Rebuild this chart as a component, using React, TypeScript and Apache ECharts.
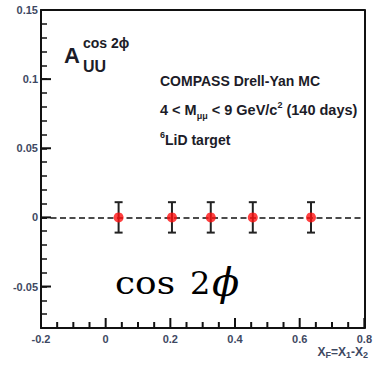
import React, { useEffect, useRef } from 'react';
import * as echarts from 'echarts';

// Data
const xF = [0.04, 0.205, 0.325, 0.455, 0.635];
const aUU = [0, 0, 0, 0, 0];
const aErr = [0.011, 0.011, 0.011, 0.011, 0.011];
const yMajorTicks = [-0.05, 0, 0.05, 0.1, 0.15];
const xMajorTicks = [-0.2, 0, 0.2, 0.4, 0.6, 0.8];
const xMinorTicks = [-0.15, -0.1, -0.05, 0.05, 0.1, 0.15, 0.25, 0.3, 0.35, 0.45, 0.5, 0.55, 0.65, 0.7, 0.75];
const xRange = [-0.2, 0.8];
const yRange = [-0.08, 0.15];

const FRAME = '#111111';
const TICK_LABEL = '#3e4862';
const ANNOT = '#1c1c28';
const SANS = '"Liberation Sans", Arial, sans-serif';
const SERIF = '"DejaVu Serif", serif';

const isMajorY = (v: number) => yMajorTicks.some((t) => Math.abs(t - v) < 1e-6);

const textGraphics: any[] = [
  { type: 'text', z: 50, x: 64, y: 55, style: { text: 'A', font: `bold 22px ${SANS}`, fill: ANNOT, verticalAlign: 'middle' } },
  { type: 'text', z: 50, x: 83, y: 43, style: { text: 'cos 2ϕ', font: `bold 14px ${SANS}`, fill: ANNOT, verticalAlign: 'middle' } },
  { type: 'text', z: 50, x: 83, y: 66, style: { text: 'UU', font: `bold 16px ${SANS}`, fill: ANNOT, verticalAlign: 'middle' } },
  { type: 'text', z: 50, x: 160, y: 81, style: { text: 'COMPASS Drell-Yan MC', font: `bold 14px ${SANS}`, fill: ANNOT, verticalAlign: 'middle' } },
  {
    type: 'text',
    z: 50,
    x: 160,
    y: 110,
    style: {
      text: '{m|4 < M}{s|μμ}{m| < 9 GeV/c}{p|2}{m| (140 days)}',
      fill: ANNOT,
      verticalAlign: 'middle',
      rich: {
        m: { fontSize: 14.5, fontWeight: 'bold', fontFamily: SANS, lineHeight: 20, fill: ANNOT },
        s: { fontSize: 9, fontWeight: 'bold', fontFamily: SANS, lineHeight: 10, verticalAlign: 'bottom', fill: ANNOT },
        p: { fontSize: 9, fontWeight: 'bold', fontFamily: SANS, lineHeight: 10, verticalAlign: 'top', fill: ANNOT },
      },
    },
  },
  {
    type: 'text',
    z: 50,
    x: 160,
    y: 140,
    style: {
      text: '{p|6}{m|LiD target}',
      fill: ANNOT,
      verticalAlign: 'middle',
      rich: {
        m: { fontSize: 14, fontWeight: 'bold', fontFamily: SANS, lineHeight: 20, fill: ANNOT },
        p: { fontSize: 9, fontWeight: 'bold', fontFamily: SANS, lineHeight: 10, verticalAlign: 'top', fill: ANNOT },
      },
    },
  },
  {
    type: 'text',
    z: 50,
    x: 368,
    y: 352,
    style: {
      text: '{m|X}{s|F}{m|=X}{s|1}{m|-X}{s|2}',
      align: 'right',
      verticalAlign: 'middle',
      fill: TICK_LABEL,
      rich: {
        m: { fontSize: 12, fontWeight: 'bold', fontFamily: SANS, lineHeight: 14, fill: TICK_LABEL },
        s: { fontSize: 9, fontWeight: 'bold', fontFamily: SANS, lineHeight: 6, verticalAlign: 'bottom', fill: TICK_LABEL },
      },
    },
  },
  { type: 'text', z: 50, x: 115, y: 283, scaleX: 1.12, style: { text: 'cos', font: `32px ${SERIF}`, fill: '#000', verticalAlign: 'middle' } },
  { type: 'text', z: 50, x: 190, y: 283, style: { text: '2', font: `32px ${SERIF}`, fill: '#000', verticalAlign: 'middle' } },
  { type: 'text', z: 50, x: 212, y: 282, style: { text: 'ϕ', font: `italic 40px ${SERIF}`, fill: '#000', verticalAlign: 'middle' } },
];

export default function App() {
  const ref = useRef<HTMLDivElement>(null);

  useEffect(() => {
    if (!ref.current) return;
    const chart = echarts.init(ref.current, undefined, { renderer: 'svg' });
    const labelStyle = {
      color: TICK_LABEL,
      fontSize: 11,
      fontWeight: 'bold',
      fontFamily: SANS,
    };
    const option: any = {
      animation: false,
      grid: { left: 41, right: 6, top: 10, bottom: 40 },
      xAxis: [
        {
          type: 'value',
          min: xRange[0],
          max: xRange[1],
          interval: 0.2,
          axisLine: { show: true, onZero: false, lineStyle: { color: FRAME, width: 2 } },
          axisTick: { show: false },
          splitLine: { show: false },
          axisLabel: { ...labelStyle, margin: 5, showMinLabel: true, showMaxLabel: true },
        },
        {
          type: 'value',
          min: xRange[0],
          max: xRange[1],
          interval: 0.2,
          position: 'top',
          axisLine: { show: true, onZero: false, lineStyle: { color: FRAME, width: 2 } },
          axisTick: { show: false },
          axisLabel: { show: false },
          splitLine: { show: false },
        },
      ],
      yAxis: [
        {
          type: 'value',
          min: yRange[0],
          max: yRange[1],
          interval: 0.01,
          axisLine: { show: true, onZero: false, lineStyle: { color: FRAME, width: 2 } },
          axisTick: { show: true, inside: true, length: 6, lineStyle: { color: FRAME, width: 1.5 } },
          splitLine: { show: false },
          axisLabel: {
            ...labelStyle,
            margin: 3,
            showMinLabel: true,
            showMaxLabel: true,
            formatter: (v: number) => (isMajorY(v) ? String(+v.toFixed(2)) : ''),
          },
        },
        {
          type: 'value',
          min: yRange[0],
          max: yRange[1],
          interval: 0.01,
          position: 'right',
          axisLine: { show: true, onZero: false, lineStyle: { color: FRAME, width: 2 } },
          axisTick: { show: false },
          axisLabel: { show: false },
          splitLine: { show: false },
        },
      ],
      series: [
        {
          type: 'custom',
          z: 11,
          data: xF.map((x, i) => [x, aUU[i] - aErr[i], aUU[i] + aErr[i]]),
          renderItem: (params: any, api: any) => {
            const lo = api.coord([api.value(0), api.value(1)]);
            const hi = api.coord([api.value(0), api.value(2)]);
            const cap = 4;
            const st = { stroke: '#222', lineWidth: 2 };
            return {
              type: 'group',
              children: [
                { type: 'line', shape: { x1: lo[0], y1: lo[1], x2: hi[0], y2: hi[1] }, style: st },
                { type: 'line', shape: { x1: lo[0] - cap, y1: lo[1], x2: lo[0] + cap, y2: lo[1] }, style: st },
                { type: 'line', shape: { x1: hi[0] - cap, y1: hi[1], x2: hi[0] + cap, y2: hi[1] }, style: st },
              ],
            };
          },
          markLine: {
            silent: true,
            symbol: ['none', 'none'],
            label: { show: false },
            lineStyle: { type: [6, 3.5], color: '#111', width: 1.5 },
            data: [{ yAxis: 0 }],
          },
        },
        {
          type: 'scatter',
          z: 12,
          symbol: 'circle',
          symbolSize: 10,
          itemStyle: { color: '#ff1010' },
          data: xF.map((x, i) => [x, aUU[i]]),
        },
      ],
    };
    chart.setOption(option);

    // Tick marks placed through the chart's own axis scales
    const toPx = (pt: number[]) => chart.convertToPixel({ gridIndex: 0 } as any, pt) as unknown as number[];
    const tickLine = (x1: number, y1: number, x2: number, y2: number) => ({
      type: 'line',
      z: 100,
      silent: true,
      shape: { x1, y1, x2, y2 },
      style: { stroke: FRAME, lineWidth: 2 },
    });
    const tickEls: any[] = [];
    xMajorTicks.forEach((v) => {
      const p = toPx([v, yRange[0]]);
      tickEls.push(tickLine(p[0], p[1], p[0], p[1] - 10));
    });
    xMinorTicks.forEach((v) => {
      const p = toPx([v, yRange[0]]);
      tickEls.push(tickLine(p[0], p[1], p[0], p[1] - 6));
    });
    yMajorTicks.forEach((v) => {
      const p = toPx([xRange[0], v]);
      tickEls.push(tickLine(p[0], p[1], p[0] + 10, p[1]));
    });
    chart.setOption({ graphic: [...textGraphics, ...tickEls] });

    return () => chart.dispose();
  }, []);

  return (
    <div
      ref={ref}
      style={{ position: 'absolute', left: 0, top: 0, width: 375, height: 368, background: '#fff' }}
    />
  );
}
